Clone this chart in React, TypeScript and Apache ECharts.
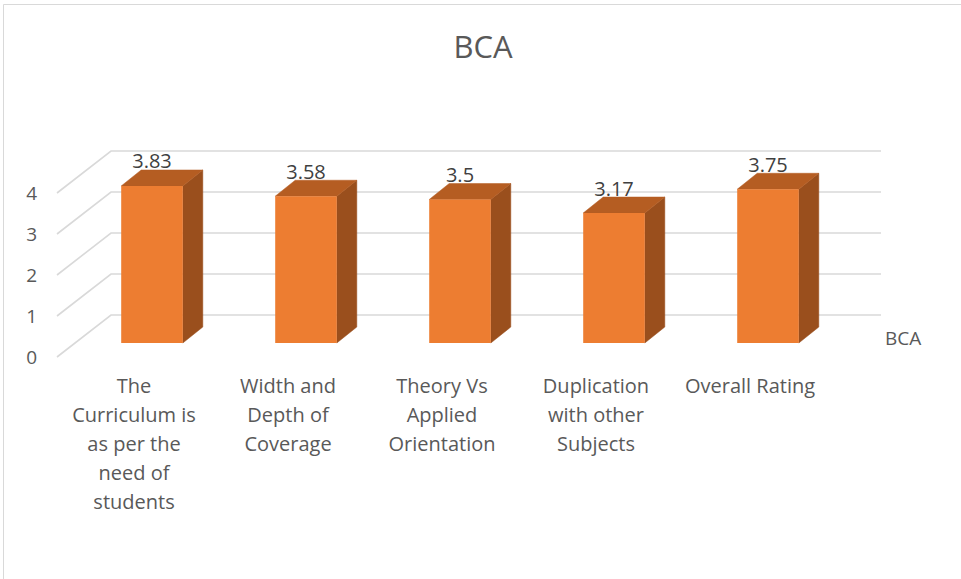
import React, { useEffect, useRef } from "react";
import * as echarts from "echarts";

const titleText = "BCA";
const seriesName = "BCA";
const categories = [
  "The\nCurriculum is\nas per the\nneed of\nstudents",
  "Width and\nDepth of\nCoverage",
  "Theory Vs\nApplied\nOrientation",
  "Duplication\nwith other\nSubjects",
  "Overall Rating",
];
const values = [3.83, 3.58, 3.5, 3.17, 3.75];
const yTicks = [0, 1, 2, 3, 4];

const FONT = '"Open Sans", "Noto Sans", sans-serif';
const TEXT = "#595959";
const GRID = "#D9D9D9";

// perspective offsets (px)
const FRONT_DX = -18;
const FRONT_DY = 14;
const BACK_DX = 36;
const BACK_DY = -28;
const BAR_DX = 20;
const BAR_DY = -16;

export default function App() {
  const ref = useRef<HTMLDivElement>(null);

  useEffect(() => {
    if (!ref.current) return;
    const chart = echarts.init(ref.current, undefined, { renderer: "svg" });

    const option: any = {
      animation: false,
      backgroundColor: "#ffffff",
      grid: [
        { left: 75, right: 116, top: 179, bottom: 236 },
        { left: 75 + FRONT_DX, right: 116 - FRONT_DX, top: 179 + FRONT_DY, bottom: 236 - FRONT_DY },
      ],
      xAxis: [
        { type: "category", gridIndex: 0, data: categories, show: false },
        {
          type: "category",
          gridIndex: 1,
          data: categories,
          axisLine: { show: false },
          axisTick: { show: false },
          axisLabel: {
            interval: 0,
            margin: 14,
            color: TEXT,
            fontSize: 20,
            lineHeight: 29,
            fontFamily: FONT,
            align: "center",
          },
        },
      ],
      yAxis: [
        { type: "value", gridIndex: 0, min: 0, max: 4, interval: 1, show: false },
        {
          type: "value",
          gridIndex: 1,
          min: 0,
          max: 4,
          interval: 1,
          splitLine: { show: false },
          axisLine: { show: false },
          axisTick: { show: false },
          axisLabel: { margin: 20, color: TEXT, fontSize: 19, fontFamily: FONT },
        },
      ],
      graphic: [
        {
          type: "rect",
          shape: { x: 3.5, y: 4.5, width: 1000, height: 700 },
          style: { fill: "none", stroke: GRID, lineWidth: 1 },
          silent: true,
        },
        {
          type: "text",
          x: 483,
          y: 46,
          style: {
            text: titleText,
            fill: TEXT,
            fontSize: 31,
            fontFamily: FONT,
            align: "center",
            verticalAlign: "middle",
          },
        },
        {
          type: "text",
          x: 885,
          y: 338,
          style: {
            text: seriesName,
            fill: TEXT,
            fontSize: 19,
            fontFamily: FONT,
            align: "left",
            verticalAlign: "middle",
          },
        },
      ],
      series: [
        {
          type: "custom",
          name: "grid",
          xAxisIndex: 0,
          yAxisIndex: 0,
          clip: false,
          silent: true,
          z: 1,
          data: yTicks.map((v) => [0, v]),
          renderItem: (params: any, api: any) => {
            const cs = params.coordSys;
            const y = api.coord([0, api.value(1)])[1];
            return {
              type: "polyline",
              shape: {
                points: [
                  [cs.x + FRONT_DX, y + FRONT_DY],
                  [cs.x + BACK_DX, y + BACK_DY],
                  [cs.x + cs.width + BACK_DX, y + BACK_DY],
                ],
              },
              style: { stroke: GRID, lineWidth: 1.6, fill: null },
            };
          },
        },
        {
          type: "custom",
          name: seriesName,
          xAxisIndex: 0,
          yAxisIndex: 0,
          clip: false,
          z: 2,
          data: values.map((v, i) => [i, v]),
          renderItem: (params: any, api: any) => {
            const i = api.value(0);
            const v = api.value(1);
            const top = api.coord([i, v]);
            const bottom = api.coord([i, 0]);
            const w = api.size([1, 0])[0] * 0.4;
            const cx = top[0];
            const xl = cx - w / 2;
            const xr = cx + w / 2;
            const yt = top[1];
            const yb = bottom[1];
            return {
              type: "group",
              children: [
                {
                  type: "polygon",
                  shape: {
                    points: [
                      [xr, yt],
                      [xr + BAR_DX, yt + BAR_DY],
                      [xr + BAR_DX, yb + BAR_DY],
                      [xr, yb],
                    ],
                  },
                  style: { fill: "#9A4F1D", stroke: "#9A4F1D", lineWidth: 0.5 },
                },
                {
                  type: "polygon",
                  shape: {
                    points: [
                      [xl, yt],
                      [xr, yt],
                      [xr + BAR_DX, yt + BAR_DY],
                      [xl + BAR_DX, yt + BAR_DY],
                    ],
                  },
                  style: { fill: "#B55D22", stroke: "#B55D22", lineWidth: 0.5 },
                },
                {
                  type: "rect",
                  shape: { x: xl, y: yt, width: w, height: yb - yt },
                  style: { fill: "#ED7D31" },
                },
                {
                  type: "text",
                  style: {
                    text: String(v),
                    x: cx,
                    y: yt + BAR_DY - 9,
                    align: "center",
                    verticalAlign: "middle",
                    fill: "#404040",
                    fontSize: 20,
                    fontFamily: FONT,
                  },
                },
              ],
            };
          },
        },
      ],
    };

    chart.setOption(option);
    return () => chart.dispose();
  }, []);

  return (
    <div
      ref={ref}
      style={{ position: "fixed", left: 0, top: 0, width: 961, height: 579, background: "#fff" }}
    />
  );
}
